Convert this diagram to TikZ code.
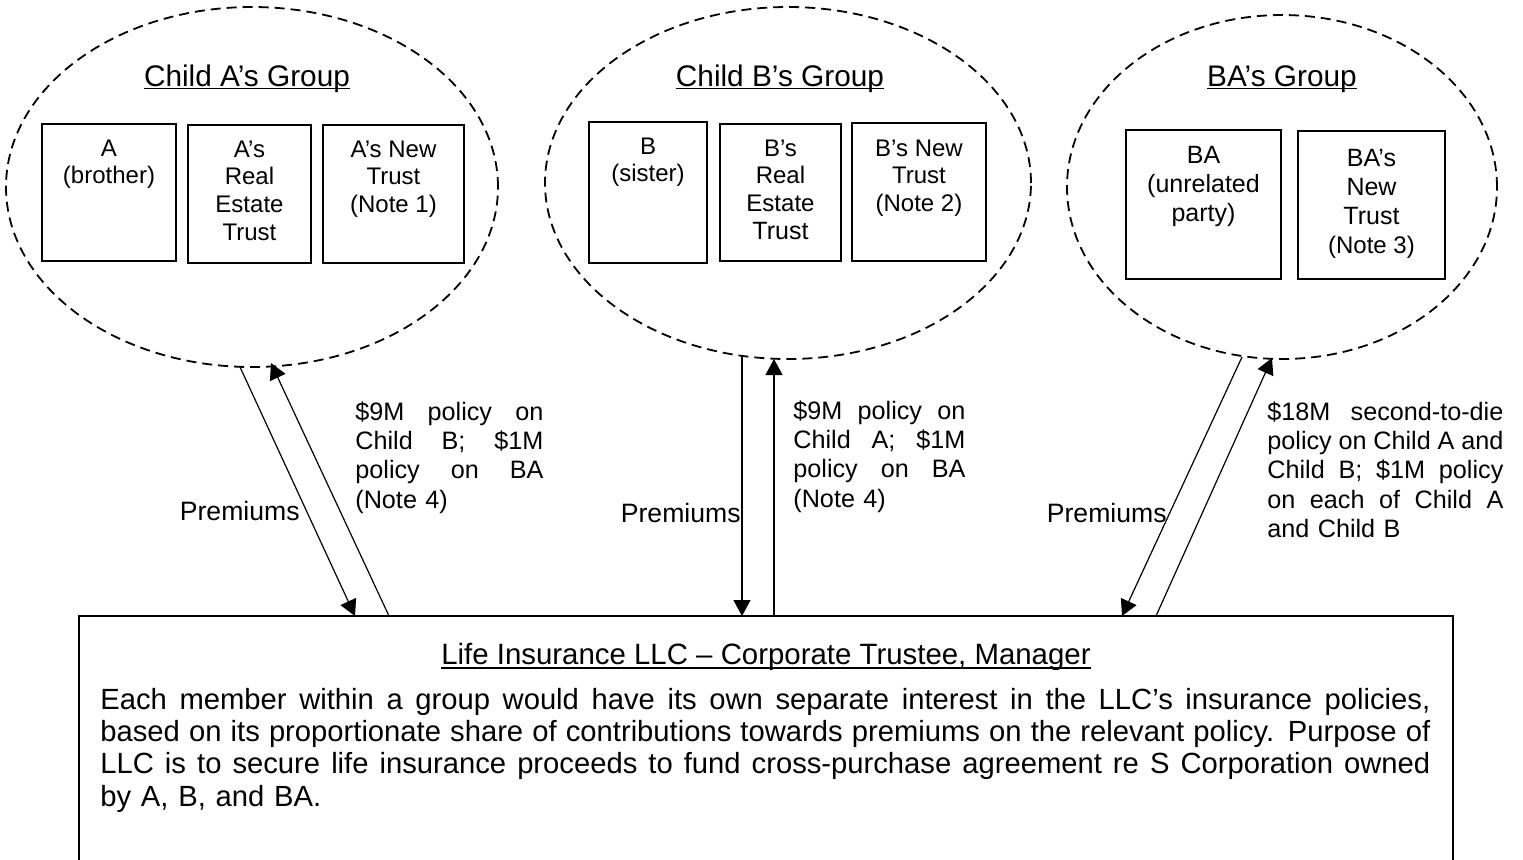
\documentclass[tikz,border=0pt]{standalone}
\usepackage{fontspec}
\setmainfont{Liberation Sans}
\usetikzlibrary{shapes.geometric,arrows.meta}
\newcommand\myul[3]{\leavevmode\setbox0=\hbox{#3}\rlap{\rule[-#1]{\wd0}{#2}}\box0}
\newcommand\jl[1]{\leavevmode\hbox to \hsize{\spaceskip=0pt\xspaceskip=0pt #1}}
\newcommand\bxt[4]{\parbox[c][#2][t]{#1}{\centering\vspace*{#3}#4\par}}
\begin{document}
\begin{tikzpicture}[x=0.5pt,y=-0.5pt,
  grp/.style={draw, ellipse, dash pattern=on 5pt off 3pt, line width=0.9pt, inner sep=0pt},
  mbox/.style={draw, rectangle, line width=0.85pt, inner sep=0pt, font=\fontsize{12}{13.8}\selectfont},
  bbox/.style={mbox, font=\fontsize{12.5}{14.6}\selectfont},
  gtitle/.style={anchor=base, inner sep=0pt, font=\fontsize{14.9}{17}\selectfont},
  flow/.style={line width=0.6pt, -{Triangle[length=8pt,width=8.5pt]}},
  prem/.style={anchor=base east, inner sep=0pt, font=\fontsize{13.3}{15}\selectfont},
  pol/.style={anchor=north west, inner sep=0pt, align=left, font=\fontsize{12.6}{14.6}\selectfont},
  llcbox/.style={draw, rectangle, line width=0.9pt, inner sep=0pt}
]
\useasboundingbox (0,0) rectangle (1523,859);
\clip (0,0) rectangle (1523,859);

% group ellipses
\node[grp, minimum width=246pt, minimum height=180pt] (ellA) at (252,187) {};
\node[grp, minimum width=243pt, minimum height=176pt] (ellB) at (788,183) {};
\node[grp, minimum width=215pt, minimum height=172pt] (ellC) at (1282,187) {};

% group titles
\node[gtitle] (tA) at (247,86) {\myul{1.6pt}{0.75pt}{Child A’s Group}};
\node[gtitle] (tB) at (780,86) {\myul{1.6pt}{0.75pt}{Child B’s Group}};
\node[gtitle] (tC) at (1282,86) {\myul{1.6pt}{0.75pt}{BA’s Group}};

% member boxes
\node[mbox] (a1) at (109,192.5) {\bxt{67pt}{68.5pt}{7.9pt}{A\\(brother)}};
\node[mbox] (a2) at (249.5,194) {\bxt{61.5pt}{69pt}{7.9pt}{A’s\\Real\\Estate\\Trust}};
\node[mbox] (a3) at (393.5,194) {\bxt{70.5pt}{69pt}{7.9pt}{A’s New\\Trust\\(Note 1)}};
\node[mbox] (b1) at (648,192.5) {\bxt{59pt}{70.5pt}{7.9pt}{B\\(sister)}};
\node[mbox] (b2) at (780.5,192.5) {\bxt{60.5pt}{68.5pt}{7.9pt}{B’s\\Real\\Estate\\{\fontsize{12.5}{14}\selectfont Trust}}};
\node[mbox] (b3) at (919,192) {\bxt{67pt}{69pt}{8.4pt}{B’s New\\Trust\\(Note 2)}};
\node[bbox] (c1) at (1203.5,204.5) {\bxt{77.5pt}{74.5pt}{8pt}{BA\\(unrelated\\party)}};
\node[bbox] (c2) at (1371.5,205) {\bxt{73.5pt}{74pt}{9pt}{BA’s\\New\\Trust\\{\fontsize{12}{14}\selectfont (Note 3)}}};

% LLC box
\node[llcbox, minimum width=687pt, minimum height=150pt] (llc) at (766,766) {};
\node[anchor=base, inner sep=0pt, font=\fontsize{14.7}{16.1}\selectfont] (llctitle) at (766,664)
  {\myul{2.3pt}{0.8pt}{Life Insurance LLC – Corporate Trustee, Manager}};
\node[anchor=north west, inner sep=0pt, text width=665pt, align=left, font=\fontsize{14.6}{16.1}\selectfont] (llcbody) at (100,685)
  {\rule{0pt}{12pt}\jl{Each member within a group would have its own separate interest in the LLC’s insurance policies,}\\
   \jl{based on its proportionate share of contributions towards premiums on the relevant policy.  Purpose of}\\
   \jl{LLC is to secure life insurance proceeds to fund cross-purchase agreement re S Corporation owned}\\
   by A, B, and BA.};

% connector end points
\coordinate (aout) at (240,367);
\coordinate (ain)  at (271,363);
\coordinate (lA1)  at (355,616);
\coordinate (lA2)  at (389,616);
\coordinate (bout) at (742,356);
\coordinate (bin)  at (774,359);
\coordinate (lB1)  at (742,616);
\coordinate (lB2)  at (774,616);
\coordinate (cout) at (1242,357);
\coordinate (cin)  at (1272,358);
\coordinate (lC1)  at (1122,616);
\coordinate (lC2)  at (1156,616);

\draw[flow] (aout) -- (lA1);
\draw[flow] (lA2) -- (ain);
\draw[flow] (bout) -- (lB1);
\draw[flow] (lB2) -- (bin);
\draw[flow] (cout) -- (lC1);
\draw[flow] (lC2) -- (cin);

% connector labels
\node[prem] (pA) at (300,520) {Premiums};
\node[prem] (pB) at (741,522) {Premiums};
\node[prem] (pC) at (1167,522) {Premiums};

\node[pol, text width=94pt] (polA) at (355,398)
  {\rule{0pt}{11pt}\jl{\$9M policy on}\\ \jl{Child B; \$1M}\\ \jl{policy on BA}\\ (Note 4)};
\node[pol, text width=86pt] (polB) at (793,397)
  {\rule{0pt}{11pt}\jl{\$9M policy on}\\ \jl{Child A; \$1M}\\ \jl{policy on BA}\\ (Note 4)};
\node[pol, text width=118pt] (polC) at (1267,398)
  {\rule{0pt}{11pt}\jl{\$18M second-to-die}\\ \jl{policy on Child A and}\\ \jl{Child B; \$1M policy}\\ \jl{on each of Child A}\\ and Child B};
\end{tikzpicture}
\end{document}
